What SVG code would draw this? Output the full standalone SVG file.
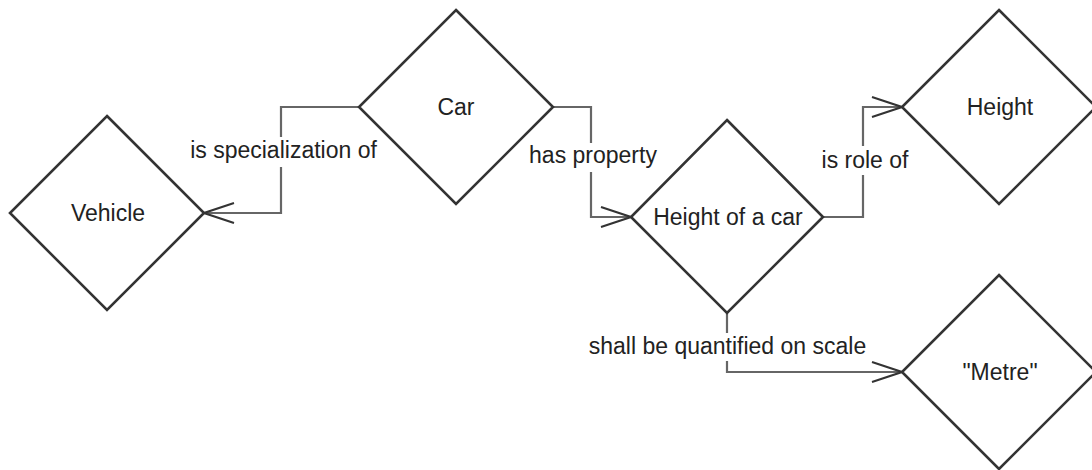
<svg xmlns="http://www.w3.org/2000/svg" width="1092" height="470" viewBox="0 0 1092 470">
  <style>
    .node { fill: #ffffff; stroke: #333333; stroke-width: 2.6; stroke-linejoin: miter; }
    .edge { fill: none; stroke: #666666; stroke-width: 2.2; }
    .lbl-bg { fill: #ffffff; stroke: none; }
    text { font-family: "Liberation Sans", Arial, Helvetica, sans-serif; font-size: 23px; fill: #222222; text-anchor: middle; }
  </style>
  <defs>
    <marker id="open" viewBox="-32 -12 34 24" refX="0" refY="0" markerWidth="34" markerHeight="24" markerUnits="userSpaceOnUse" orient="auto">
      <path d="M-30,-10 L0,0 L-30,10" fill="none" stroke="#333333" stroke-width="2"/>
    </marker>
  </defs>
  <rect width="1092" height="470" fill="#ffffff"/>

  <g id="connectors">
    <path class="edge" d="M359,107 H281 V213 H204" marker-end="url(#open)"/>
    <path class="edge" d="M553,107 H591 V217 H631" marker-end="url(#open)"/>
    <path class="edge" d="M823,217 H863 V107 H902" marker-end="url(#open)"/>
    <path class="edge" d="M727,313 V372 H902" marker-end="url(#open)"/>
    <g id="edge-labels">
      <rect class="lbl-bg" x="187" y="137" width="194" height="30"/>
      <text x="283.5" y="158">is specialization of</text>
      <rect class="lbl-bg" x="527" y="143" width="132" height="29"/>
      <text x="593" y="163">has property</text>
      <rect class="lbl-bg" x="818" y="146" width="94" height="29"/>
      <text x="865" y="168">is role of</text>
      <rect class="lbl-bg" x="584" y="333" width="287" height="28"/>
      <text x="727.5" y="354">shall be quantified on scale</text>
    </g>
  </g>

  <g id="node-car">
    <polygon class="node" points="456,10 553,107 456,204 359,107"/>
    <text x="456" y="115">Car</text>
  </g>
  <g id="node-vehicle">
    <polygon class="node" points="107,116 204,213 107,310 10,213"/>
    <text x="108" y="221">Vehicle</text>
  </g>
  <g id="node-height-of-a-car">
    <polygon class="node" points="727,120 823,217 727,313 631,217"/>
    <text x="728" y="225">Height of a car</text>
  </g>
  <g id="node-height">
    <polygon class="node" points="999,10 1096,107 999,204 902,107"/>
    <text x="1000" y="115">Height</text>
  </g>
  <g id="node-metre">
    <polygon class="node" points="999,275 1096,372 999,469 902,372"/>
    <text x="1000" y="380">"Metre"</text>
  </g>
</svg>
